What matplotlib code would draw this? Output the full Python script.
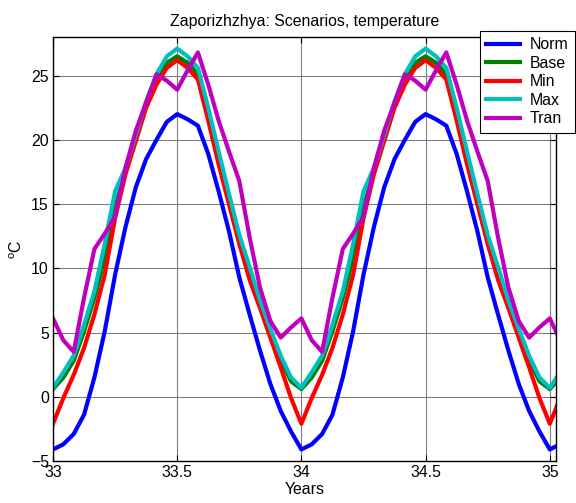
import numpy as np
import matplotlib
matplotlib.use("Agg")
import matplotlib.pyplot as plt

# ==========================================================
# DATA  (one annual cycle, sampled every 1/24 year)
# ==========================================================

start_year = 33
n_years = 2
step = 1 / 24

norm_cycle = [-4.1, -3.7, -2.9, -1.4, 1.5, 5.1, 9.5, 13.2, 16.3, 18.5, 20.0, 21.4,
              22.0, 21.6, 21.1, 18.9, 16.0, 12.9, 9.3, 6.4, 3.6, 1.0, -1.1, -2.7]
base_cycle = [0.6, 1.5, 2.8, 5.1, 7.7, 10.8, 14.7, 17.6, 20.2, 22.6, 24.6, 26.0,
              26.5, 26.0, 25.1, 22.0, 18.6, 15.4, 12.4, 9.7, 7.2, 5.0, 2.9, 1.2]
min_cycle = [-2.1, -0.1, 1.7, 3.8, 6.4, 9.5, 13.9, 17.3, 19.9, 22.5, 24.3, 25.6,
             26.2, 25.6, 24.7, 21.5, 18.1, 15.0, 11.9, 9.1, 6.9, 4.6, 2.3, -0.1]
max_cycle = [0.7, 1.9, 3.2, 5.6, 8.2, 11.9, 16.0, 17.8, 20.4, 23.0, 25.1, 26.5,
             27.1, 26.5, 25.6, 22.5, 19.1, 15.8, 12.6, 10.1, 7.5, 5.3, 3.2, 1.5]
tran_cycle = [6.1, 4.4, 3.5, 7.7, 11.5, 12.7, 14.0, 17.8, 20.7, 22.9, 25.1, 24.6,
              23.9, 25.4, 26.8, 24.3, 21.5, 19.1, 16.8, 12.4, 8.5, 5.9, 4.6, 5.4]

series_names = ["Norm", "Base", "Min", "Max", "Tran"]
series_cycles = [norm_cycle, base_cycle, min_cycle, max_cycle, tran_cycle]
series_colors = ["#0000ff", "#008000", "#ff0000", "#00bfbf", "#bf00bf"]

x_ticks = [33, 33.5, 34, 34.5, 35]
x_tick_labels = ["33", "33.5", "34", "34.5", "35"]
y_ticks = [-5, 0, 5, 10, 15, 20, 25]

# ==========================================================
# PLOT
# ==========================================================

plt.rcParams["font.family"] = ["Liberation Sans", "DejaVu Sans"]
plt.rcParams["mathtext.fontset"] = "custom"
plt.rcParams["mathtext.rm"] = "Liberation Sans"
plt.rcParams["font.size"] = 11.4

fig = plt.figure(figsize=(5.76, 5.03), dpi=100)
ax = fig.add_axes([0.092, 0.0835, 0.8733, 0.8429])

n_pts = len(norm_cycle) * n_years + 2
time = start_year + np.arange(n_pts) * step

for name, cycle, color in zip(series_names, series_cycles, series_colors):
    values = list(cycle) * n_years + list(cycle[:2])
    ax.plot(time, values, color=color, linewidth=3, label=name)

ax.set_xlim(33, 35.025)
ax.set_ylim(-5, 28)
ax.set_xticks(x_ticks)
ax.set_xticklabels(x_tick_labels)
ax.set_yticks(y_ticks)

ax.grid(True, color="0.5", linewidth=0.8)
ax.tick_params(direction="in", top=True, right=True, length=4, width=0.8, pad=3)
for sp in ax.spines.values():
    sp.set_linewidth(1.0)

ax.set_title("Zaporizhzhya: Scenarios, temperature", fontsize=11.4, pad=8)
ax.set_xlabel("Years", labelpad=1)
ax.set_ylabel(r"$^{\rm o}$C", labelpad=4)

leg = ax.legend(
    loc="upper right",
    bbox_to_anchor=(575 / 576, 1 - 31 / 503),
    bbox_transform=fig.transFigure,
    borderaxespad=0,
    fancybox=False,
    framealpha=1,
    edgecolor="black",
    handlelength=2.1,
    handletextpad=0.65,
    labelspacing=0.22,
    borderpad=0.4,
)
leg.get_frame().set_linewidth(0.8)

plt.savefig("out.png", dpi=100)
